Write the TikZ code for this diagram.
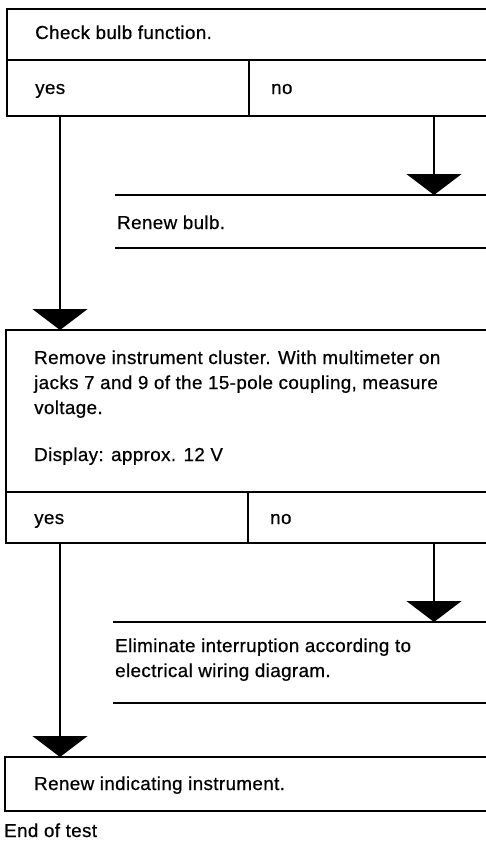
\documentclass[tikz,border=0pt]{standalone}
\usepackage{fontspec}
\setmainfont{Liberation Sans}[LetterSpace=2,FakeBold=0.6]
\usetikzlibrary{arrows.meta}
\begin{document}
\begin{tikzpicture}[x=1pt,y=-1pt,
  cell/.style={draw, line width=1.6pt, anchor=north west, inner sep=0pt, outer sep=0pt},
  band/.style={anchor=north west, inner sep=0pt, outer sep=0pt},
  rule/.style={line width=1.6pt},
  txt/.style={anchor=base west, inner sep=0pt, font=\fontsize{18.8}{22}\selectfont},
  conn/.style={line width=1.6pt, -{Triangle[width=55pt,length=21pt]}}]
\clip (0,0) rectangle (486,843);
\fill[white] (0,0) rectangle (486,843);
\coordinate (xl) at (60,0);
\coordinate (xr) at (434,0);
% box 1
\node[cell, minimum width=493pt, minimum height=51pt] (q1) at (7,9) {};
\node[cell, minimum width=242pt, minimum height=56pt] (yes1) at (7,60) {};
\node[cell, minimum width=251pt, minimum height=56pt] (no1) at (249,60) {};
\node[txt] (t1) at (35,39) {Check bulb function.};
\node[txt] (ty1) at (35,94) {yes};
\node[txt] (tn1) at (271,94) {no};
% renew bulb
\node[band, minimum width=385pt, minimum height=53pt] (rb) at (115,195) {};
\draw[rule] (rb.north west) -- (rb.north east);
\draw[rule] (rb.south west) -- (rb.south east);
\node[txt] (t2) at (117,229) {Renew bulb.};
% box 2
\node[cell, minimum width=494pt, minimum height=162pt] (q2) at (6,330) {};
\node[cell, minimum width=242pt, minimum height=51pt] (yes2) at (6,492) {};
\node[cell, minimum width=252pt, minimum height=51pt] (no2) at (248,492) {};
\node[txt] (t3a) at (34,364) {Remove instrument cluster. With multimeter on};
\node[txt] (t3b) at (34,389) {jacks 7 and 9 of the 15-pole coupling, measure};
\node[txt] (t3c) at (34,414) {voltage.};
\node[txt] (t3d) at (34,461) {Display: approx. 12 V};
\node[txt] (ty2) at (34,524) {yes};
\node[txt] (tn2) at (270,524) {no};
% eliminate
\node[band, minimum width=387pt, minimum height=81pt] (el) at (113,622) {};
\draw[rule] (el.north west) -- (el.north east);
\draw[rule] (el.south west) -- (el.south east);
\node[txt] (t4a) at (115,652) {Eliminate interruption according to};
\node[txt] (t4b) at (115,677) {electrical wiring diagram.};
% box 3
\node[cell, minimum width=495pt, minimum height=54pt] (q3) at (5,757) {};
\node[txt] (t5) at (34,790) {Renew indicating instrument.};
\node[txt] (t6) at (4,837) {End of test};
% connectors
\draw[conn] (yes1.south -| xl) -- (q2.north -| xl);
\draw[conn] (no1.south -| xr) -- (rb.north -| xr);
\draw[conn] (no2.south -| xr) -- (el.north -| xr);
\draw[conn] (yes2.south -| xl) -- (q3.north -| xl);
\end{tikzpicture}
\end{document}
